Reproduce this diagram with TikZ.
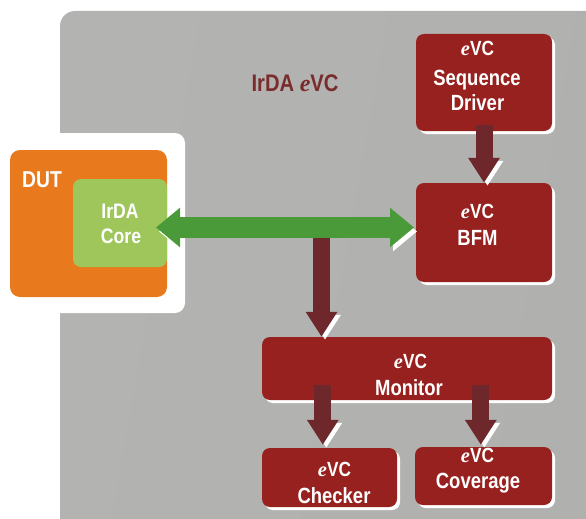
\documentclass[tikz,border=0pt]{standalone}
\usepackage{fontspec}
\usetikzlibrary{arrows.meta,calc}
\newfontfamily\nf{Liberation Sans}[FakeStretch=0.84]
\newfontfamily\ef{Liberation Serif}
\newcommand\myE{{\ef\bfseries\itshape e}}
\definecolor{boxred}{HTML}{97211E}
\definecolor{arrowc}{HTML}{6E272A}
\definecolor{grn}{HTML}{4A9A3A}
\definecolor{lgrn}{HTML}{9EC65A}
\definecolor{orng}{HTML}{E8791C}
\definecolor{gA}{HTML}{B3B3B2}
\definecolor{gB}{HTML}{C6C6C4}
\definecolor{gC}{HTML}{B0B0AF}
\definecolor{titlec}{HTML}{7A2B2C}
\tikzset{
  redbox/.style={draw=none, fill=boxred, rounded corners=8pt, inner sep=0pt,
    preaction={fill=white, transform canvas={shift={(3pt,-3pt)}}}},
  lt/.style={text=white, anchor=base, inner sep=0pt, font=\nf\bfseries\fontsize{22}{26}\selectfont},
  ev/.style={lt, font=\nf\bfseries\fontsize{20.5}{24}\selectfont},
  blk/.style={draw=arrowc, line width=17pt, -{Triangle[width=30pt,length=25pt]},
    preaction={draw=white, transform canvas={shift={(3.5pt,-3pt)}}}},
  grnarrow/.style={draw=grn, line width=21pt,
    {Triangle[width=38pt,length=24pt]}-{Triangle[width=38pt,length=24pt]},
    preaction={draw=white, transform canvas={shift={(3pt,-4pt)}}}}
}
\begin{document}
\begin{tikzpicture}[x=1pt,y=-1pt]
\useasboundingbox (0,0) rectangle (586,519);
% background panel
\path[left color=gA, middle color=gB, right color=gC, shading angle=80, rounded corners=15pt]
  (60,11) rectangle (620,560);
% white panel behind DUT
\path[fill=white, rounded corners=10pt] (-20,133) rectangle (185,313);
% DUT
\path[fill=orng, rounded corners=10pt] (10,150) rectangle (167,297);
\node[lt, font=\nf\bfseries\fontsize{23}{26}\selectfont] (dutl) at (42,187.5) {DUT};
\node[fill=lgrn, rounded corners=8pt, minimum width=94pt, minimum height=88pt, inner sep=0pt] (core) at (120,223) {};
\node[lt, font=\nf\bfseries\fontsize{21}{25}\selectfont] (core1) at (120,218) {IrDA};
\node[lt, font=\nf\bfseries\fontsize{21}{25}\selectfont] (core2) at (121,243) {Core};
% title
\node[lt, text=titlec, font=\nf\bfseries\fontsize{24}{28}\selectfont] (title) at (295,91.5) {IrDA \myE VC};
% boxes
\node[redbox, minimum width=136pt, minimum height=97pt] (drv) at (484,82.5) {};
\node[redbox, minimum width=136pt, minimum height=99pt] (bfm) at (484,232.5) {};
\node[redbox, minimum width=290pt, minimum height=63pt] (mon) at (407,368.5) {};
\node[redbox, minimum width=135pt, minimum height=59pt] (chk) at (329.5,477.5) {};
\node[redbox, minimum width=137pt, minimum height=58pt] (cov) at (483.5,476) {};
% box texts
\node[ev] (drv1) at (477.5,56) {\myE VC};
\node[lt] (drv2) at (477,85) {Sequence};
\node[lt] (drv3) at (477.5,110) {Driver};
\node[ev] (bfm1) at (477.5,218) {\myE VC};
\node[lt] (bfm2) at (477.5,245) {BFM};
\node[ev] (mon1) at (410.5,368) {\myE VC};
\node[lt] (mon2) at (409,395) {Monitor};
\node[ev] (chk1) at (334.5,476.5) {\myE VC};
\node[lt] (chk2) at (334,503) {Checker};
\node[ev] (cov1) at (477.5,462.5) {\myE VC};
\node[lt] (cov2) at (478,488) {Coverage};
% connectors
\coordinate (br) at (321.5,236);
\coordinate (gl) at (156,227.5);
\coordinate (gr) at (414,227.5);
\draw[blk] ($(drv.south)+(0,-6)$) -- (bfm.north);
\draw[blk] (br) -- (br |- mon.north);
\draw[blk] ($(mon.south west)+(61,-15)$) -- ($(chk.north west)+(61,-3)$);
\draw[blk] ($(mon.south west)+(219,-15)$) -- ($(cov.north west)+(66,-2)$);
\draw[grnarrow] (gl) -- (gr);
\end{tikzpicture}
\end{document}
